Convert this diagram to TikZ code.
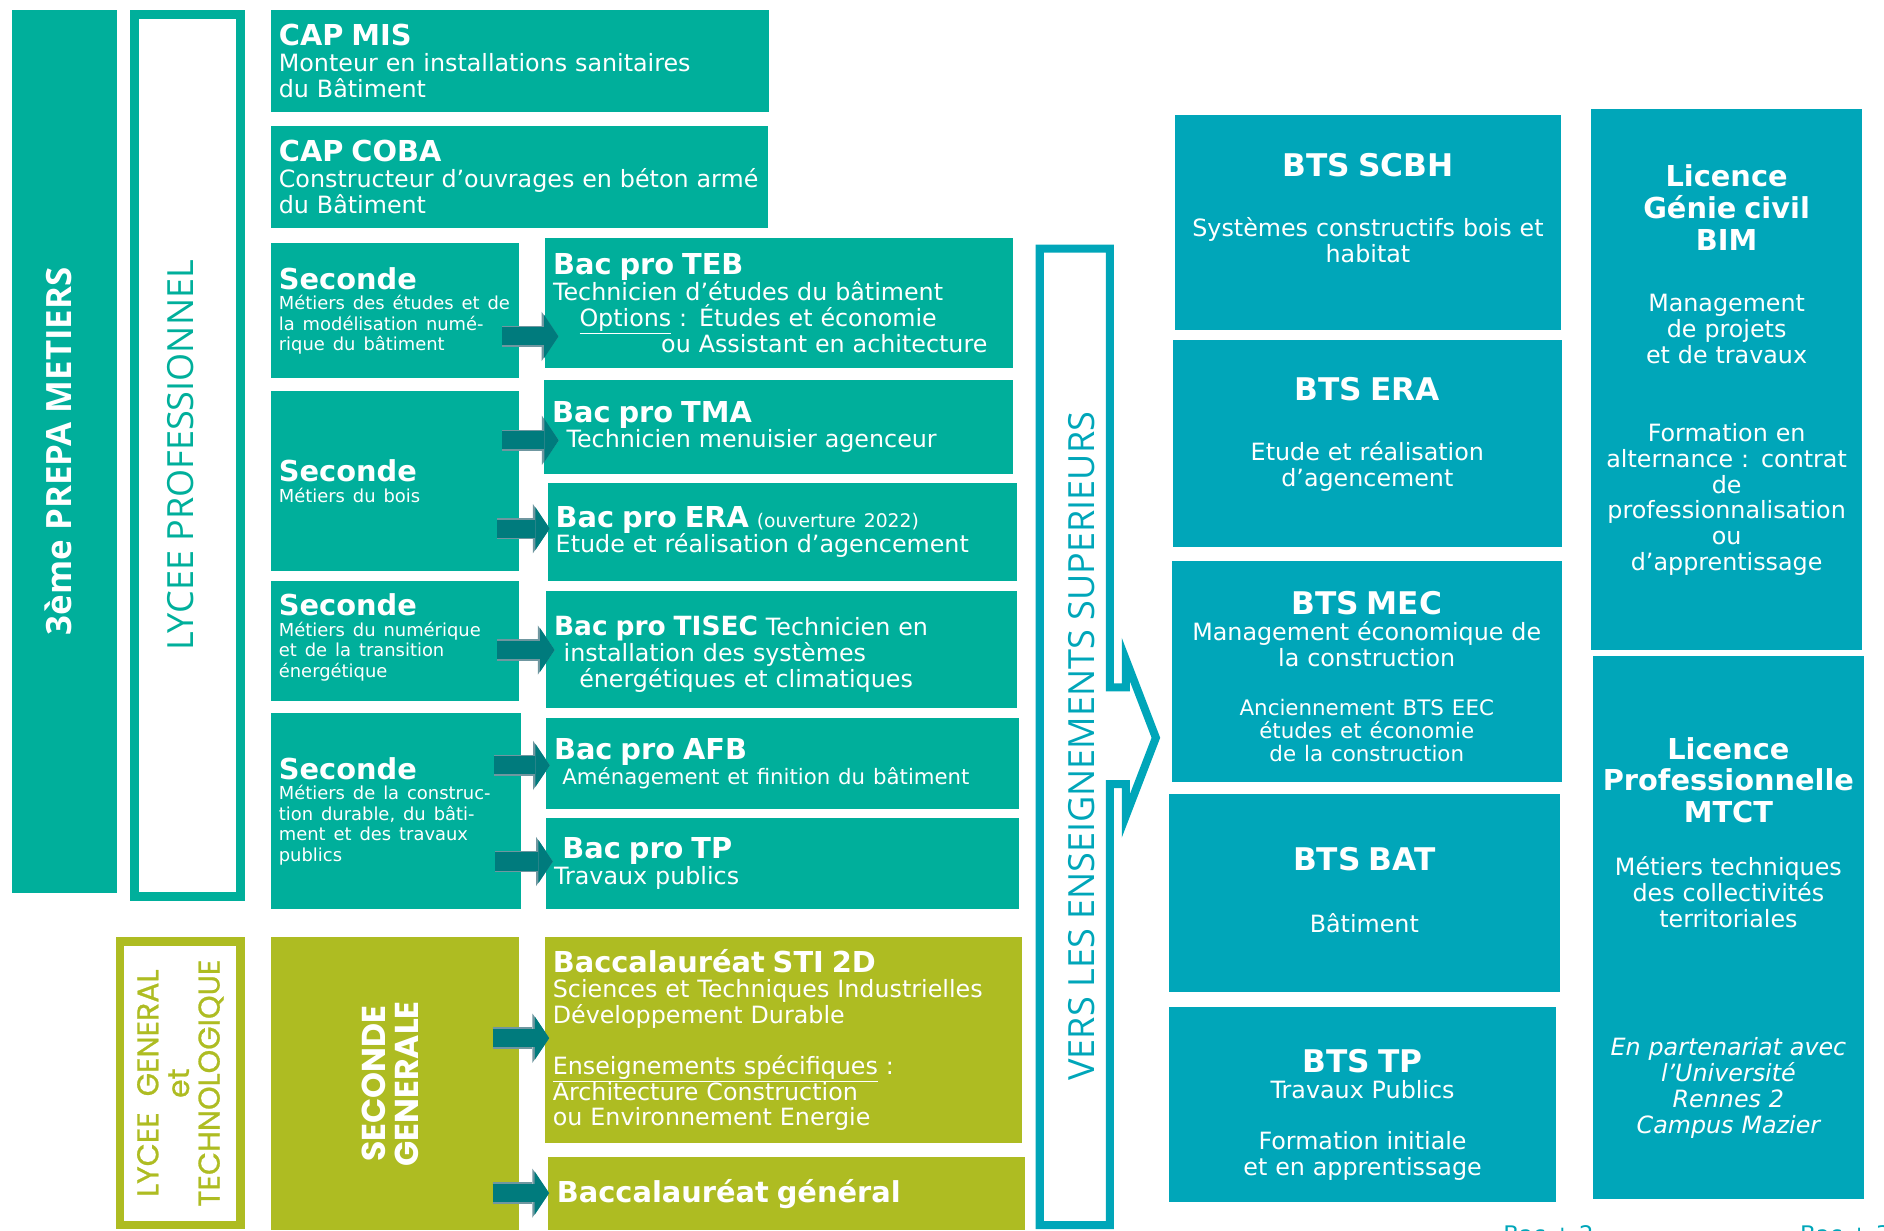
\documentclass[tikz,border=0pt]{standalone}
\usepackage{fontspec}
\setmainfont{DejaVu Sans}
\newfontfamily\opensans{Open Sans}
\newfontfamily\poppins{Poppins}
\newfontfamily\poppinsdemi{Poppins}[FakeBold=0.8]
\usetikzlibrary{positioning,calc,arrows.meta}

\definecolor{vertpro}{HTML}{00AF9B}
\definecolor{bleusup}{HTML}{00A6B9}
\definecolor{vertolive}{HTML}{AEBC22}
\definecolor{flechefond}{HTML}{007B7D}
\definecolor{flechebord}{HTML}{6F97A0}

\newcommand{\titrebac}{\fontsize{24}{26.5}\selectfont\bfseries}
\newcommand{\titrebts}{\fontsize{26}{28}\selectfont\bfseries}
\newcommand{\soustitre}{\fontsize{14.9}{17}\selectfont}
\newcommand{\notebts}{\fontsize{17.8}{19}\selectfont}

\begin{document}
\begin{tikzpicture}[x = 1pt, y = -1pt,
                    font = \fontsize{19.8}{21.5}\selectfont,
                    boite/.style 2 args = {anchor = north west,
                                           outer sep = 0pt,
                                           inner xsep = 6.5pt,
                                           inner ysep = 0pt,
                                           text = white,
                                           minimum width = #1pt,
                                           minimum height = #2pt,
                                           /utils/exec = {\pgfmathsetmacro\largeur{#1-13}},
                                           text width = \largeur pt},
                    pro/.style = {fill = vertpro, align = left},
                    gen/.style = {fill = vertolive, align = left},
                    sup/.style = {fill = bleusup, align = center},
                    vertical/.style = {rotate = 90, outer sep = 0pt, inner sep = 0pt, align = center},
                    fleche/.style = {draw = flechefond, line width = 15pt,
                                     -{Triangle[width = 36pt, length = 12pt, line width = 0pt]},
                                     preaction = {draw = flechebord, line width = 18pt,
                                                  -{Triangle[width = 41pt, length = 14pt, line width = 0pt]}}},
                    cadre/.style = {draw = bleusup, line width = 6.7pt, line join = miter}]

\useasboundingbox (0,0) rectangle (1568,1024);

\node[vertical, fill = vertpro, text = white, minimum width = 735pt, minimum height = 87pt,
      text depth = 11pt, font = \opensans\bfseries\fontsize{29}{30}\selectfont]
      (prepa) at (53.5,375.5) {3ème PREPA METIERS};
\node[vertical, draw = vertpro, line width = 7.5pt, minimum width = 734.5pt, minimum height = 88pt,
      text = vertpro, text depth = 12pt, font = \opensans\fontsize{30}{31}\selectfont]
      (lpro) at (156.25,379) {LYCEE PROFESSIONNEL};
\node[vertical, draw = vertolive, line width = 7pt, minimum width = 236pt, minimum height = 100pt,
      text = vertolive, font = \poppinsdemi\fontsize{25}{25.5}\selectfont]
      (lgt) at (150.1,901.5) {LYCEE\ \ GENERAL\\ et\\ TECHNOLOGIQUE};

\node[boite = {414.4}{84.7}, pro] (capmis) at (225.6,8.3)
     {{\titrebac CAP MIS}\\ Monteur en installations sanitaires\\ du Bâtiment};
\node[boite = {413.4}{84.5}, pro] (capcoba) at (225.6,105)
     {{\titrebac CAP COBA}\\ Constructeur d’ouvrages en béton armé\\ du Bâtiment};
\node[boite = {206}{112.5}, pro] (sec1) at (225.6,202.5)
     {{\titrebac Seconde}\\ {\soustitre Métiers des études et de\\ la modélisation numé-\\ rique du bâtiment\par}};
\node[boite = {389}{108}, pro] (teb) at (453.8,198.3)
     {{\titrebac Bac pro TEB}\\ Technicien d’études du bâtiment\\
      \hspace*{22pt}\underline{Options} : Études et économie\\
      \hspace*{90pt}ou Assistant en achitecture};
\node[boite = {206}{149.4}, pro] (sec2) at (225.6,325.6)
     {{\titrebac Seconde}\\ {\soustitre Métiers du bois\par}};
\node[boite = {390}{78.6}, pro] (tma) at (453,316)
     {{\titrebac Bac pro TMA}\\ \hspace*{12pt}Technicien menuisier agenceur};
\node[boite = {390.5}{81.6}, pro] (era) at (456,402)
     {{\titrebac Bac pro ERA} {\fontsize{15.6}{17}\selectfont(ouverture 2022)}\\ Etude et réalisation d’agencement};
\node[boite = {206}{100}, pro] (sec3) at (225.6,483.6)
     {{\titrebac Seconde}\\ {\soustitre Métiers du numérique\\ et de la transition\\ énergétique\rule[-9.5pt]{0pt}{0pt}\par}};
\node[boite = {392}{97}, pro] (tisec) at (454.6,492)
     {{\fontsize{22}{24}\selectfont\bfseries\rule{0pt}{24pt}Bac pro TISEC} Technicien en\\
      \hspace*{8pt}installation des systèmes\\ \hspace*{21pt}énergétiques et climatiques};
\node[boite = {208.4}{163}, pro] (sec4) at (225.6,593.6)
     {{\titrebac Seconde}\\ {\soustitre Métiers de la construc-\\ tion durable, du bâti-\\ ment et des travaux\\ publics\par}};
\node[boite = {393.4}{76}, pro] (afb) at (454.6,597.6)
     {{\titrebac Bac pro AFB}\\ \hspace*{7pt}{\fontsize{17.7}{21.5}\selectfont Aménagement et finition du bâtiment}};
\node[boite = {393.4}{75.6}, pro] (tp) at (454.6,681)
     {\hspace*{7pt}{\titrebac Bac pro TP}\\ Travaux publics};

\node[boite = {206}{244}, gen, align = center] (secg) at (225.6,780)
     {\rotatebox{90}{\poppins\bfseries\fontsize{27.5}{27}\selectfont
      \begin{tabular}{@{}c@{}}SECONDE\\ GENERALE\end{tabular}}};
\node[boite = {397}{171}, gen] (sti) at (453.6,780)
     {{\titrebac Baccalauréat STI 2D}\\ Sciences et Techniques Industrielles\\ Développement Durable\\[20.5pt]
      \underline{Enseignements spécifiques} :\\ Architecture Construction\\ ou Environnement Energie};
\node[boite = {396.7}{61}, gen] (bacg) at (456,963)
     {\hspace*{1pt}{\titrebac Baccalauréat général}};

\draw[cadre] (865.35,206.85) -- (923.65,206.85) -- (923.65,572) -- (937,572) -- (937,549)
             -- (962,614) -- (937,679) -- (937,652.6) -- (923.65,652.6) -- (923.65,1019.65)
             -- (865.35,1019.65) -- cycle;
\node[vertical, text = bleusup, font = \opensans\fontsize{30}{31}\selectfont]
     (vers) at (900,621) {VERS LES ENSEIGNEMENTS SUPERIEURS};

\node[boite = {321}{179}, sup] (scbh) at (978,96)
     {{\titrebts BTS SCBH}\\[29pt] Systèmes constructifs bois et\\ habitat\rule[-25pt]{0pt}{0pt}};
\node[boite = {324}{172}, sup] (btsera) at (976,283)
     {{\titrebts BTS ERA}\\[29pt] Etude et réalisation\\ d’agencement\rule[-19pt]{0pt}{0pt}};
\node[boite = {325}{184}, sup] (mec) at (975,467)
     {{\titrebts\rule{0pt}{27pt}BTS MEC}\\ Management économique de\\ la construction\\[22pt]
      {\notebts Anciennement BTS EEC\\ études et économie\\ de la construction\par}};
\node[boite = {325}{165}, sup] (bat) at (973,661)
     {{\titrebts BTS BAT}\\[30pt] Bâtiment\rule[-5pt]{0pt}{0pt}};
\node[boite = {322}{162}, sup] (btstp) at (973,838)
     {{\titrebts\rule{0pt}{37pt}BTS TP}\\ Travaux Publics\\[21.5pt] Formation initiale\\ et en apprentissage};
\node[boite = {226}{450}, sup] (licgc) at (1324,91)
     {{\titrebac Licence\\ Génie civil\\ BIM\\[29.5pt]}Management\\ de projets\\ et de travaux\\[43.5pt]
      Formation en\\ alternance : contrat\\ de\\ professionnalisation\\ ou\\ d’apprentissage\rule[-20pt]{0pt}{0pt}};
\node[boite = {225}{452}, sup] (licpro) at (1326,546)
     {{\titrebac\rule{0pt}{35pt}Licence\\ Professionnelle\\ MTCT\\[22.5pt]}Métiers techniques\\ des collectivités\\ territoriales\\[85.5pt]
      {\itshape En partenariat avec\\ l’Université\\ Rennes 2\\ Campus Mazier\par}};

\draw[fleche] ($(sec1.east)+(-13.6,21.25)$) coordinate (d1) -- ($(teb.west |- d1)+(11,0)$);
\draw[fleche] ($(sec2.east)+(-13.6,-33.8)$) coordinate (d2) -- ($(tma.west |- d2)+(12,0)$);
\draw[fleche] ($(sec2.east)+(-17.6,39.7)$) coordinate (d3) -- ($(era.west |- d3)+(1.5,0)$);
\draw[fleche] ($(sec3.east)+(-17.6,7.4)$) coordinate (d4) -- ($(tisec.west |- d4)+(7,0)$);
\draw[fleche] ($(sec4.east)+(-23,-38.1)$) coordinate (d5) -- ($(afb.west |- d5)+(3,0)$);
\draw[fleche] ($(sec4.east)+(-22,41.9)$) coordinate (d6) -- ($(tp.west |- d6)+(5.5,0)$);
\draw[fleche] ($(secg.east)+(-21.6,-38)$) coordinate (d7) -- ($(sti.west |- d7)+(3.5,0)$);
\draw[fleche] ($(secg.east)+(-21.6,91)$) coordinate (d8) -- ($(bacg.west |- d8)+(1,0)$);

\node[anchor = base west, inner sep = 0pt, text = bleusup, font = \fontsize{19}{20}\selectfont]
     (bac2) at (1251,1034) {Bac + 2};
\node[anchor = base west, inner sep = 0pt, text = bleusup, font = \fontsize{19}{20}\selectfont]
     (bac3) at (1498,1034) {Bac + 3};

\end{tikzpicture}
\end{document}
